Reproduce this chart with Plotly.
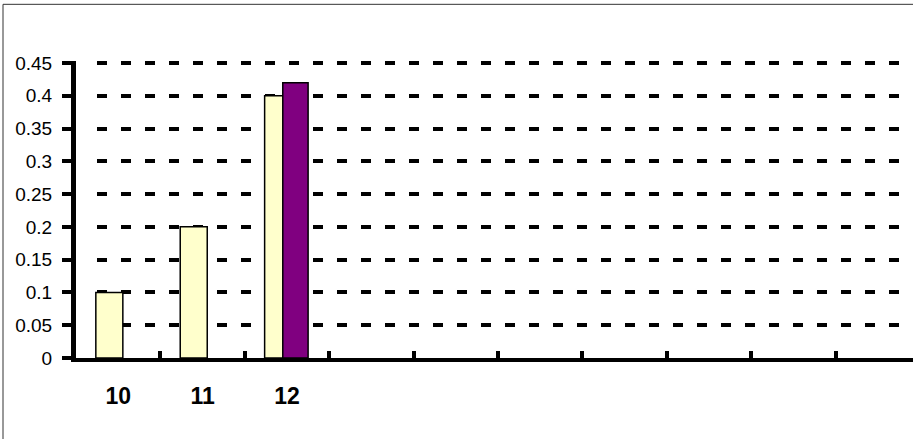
import plotly.graph_objects as go

# ---- data ----
categories = ["10", "11", "12"]
series1 = [0.1, 0.2, 0.4]
series2 = [None, None, 0.42]
y_ticks = [0, 0.05, 0.1, 0.15, 0.2, 0.25, 0.3, 0.35, 0.4, 0.45]
y_tick_labels = ["0", "0.05", "0.1", "0.15", "0.2", "0.25", "0.3", "0.35", "0.4", "0.45"]
n_slots = 10  # category slots on the axis

W, H = 913, 439
L, B = 76, 81
y_top = 0.453                     # a little headroom so the 0.45 gridline is drawn
px_per_unit = (358 - 62.7) / 0.45
plot_h = y_top * px_per_unit
T = H - B - plot_h
plot_w = W - L

x_pos = list(range(len(categories)))
dash = "0px,21px," + ",".join(["10px,14px"] * 40)
FONT = "Liberation Sans, Arial, sans-serif"

fig = go.Figure()
fig.add_trace(go.Bar(
    x=x_pos, y=series1, width=0.32, offset=-0.265,
    marker=dict(color="#FFFFCC", line=dict(color="black", width=1.5)),
    showlegend=False, hoverinfo="skip"))
fig.add_trace(go.Bar(
    x=x_pos, y=series2, width=0.30, offset=-0.05,
    marker=dict(color="#800080", line=dict(color="black", width=1.5)),
    showlegend=False, hoverinfo="skip"))

# frame: only top and left edges are visible in the picture
bx = (3 - L) / plot_w
by = (H - B - 4) / plot_h
frame = dict(color="#333333", width=1)

fig.update_layout(
    width=W, height=H,
    margin=dict(l=L, r=0, t=T, b=B, pad=0),
    paper_bgcolor="white", plot_bgcolor="white",
    barmode="overlay",
    font=dict(family=FONT, color="black"),
    xaxis=dict(
        range=[-0.5, -0.5 + plot_w / 84.4],
        tickmode="array", tickvals=x_pos, ticktext=categories,
        ticks="", showgrid=False, zeroline=False,
        showline=True, linecolor="black", linewidth=4,
        tickfont=dict(size=23, family=FONT, weight="bold", color="black"),
        ticklabelstandoff=14,
        minor=dict(tickmode="array", tickvals=[i + 0.5 for i in range(n_slots - 1)],
                   ticks="inside", ticklen=7, tickwidth=4, tickcolor="black", showgrid=False),
    ),
    yaxis=dict(
        range=[0, y_top], tickmode="array", tickvals=y_ticks, ticktext=y_tick_labels,
        ticks="outside", ticklen=9, tickwidth=4, tickcolor="black",
        showline=True, linecolor="black", linewidth=5,
        showgrid=True, gridcolor="black", gridwidth=4, griddash=dash,
        zeroline=False,
        tickfont=dict(size=19, family=FONT, color="black"), ticklabelstandoff=6,
    ),
    yaxis2=dict(
        range=[0, y_top], overlaying="y", anchor="x", side="left",
        tickmode="array", tickvals=y_ticks, showticklabels=False,
        ticks="inside", ticklen=7, tickwidth=4, tickcolor="black",
        showgrid=False, zeroline=False, showline=False,
    ),
    shapes=[
        dict(type="line", xref="paper", yref="paper", x0=bx, x1=1.2, y0=by, y1=by, line=frame),
        dict(type="line", xref="paper", yref="paper", x0=bx, x1=bx, y0=by, y1=-1, line=frame),
    ],
)

fig.write_html("out.html")
